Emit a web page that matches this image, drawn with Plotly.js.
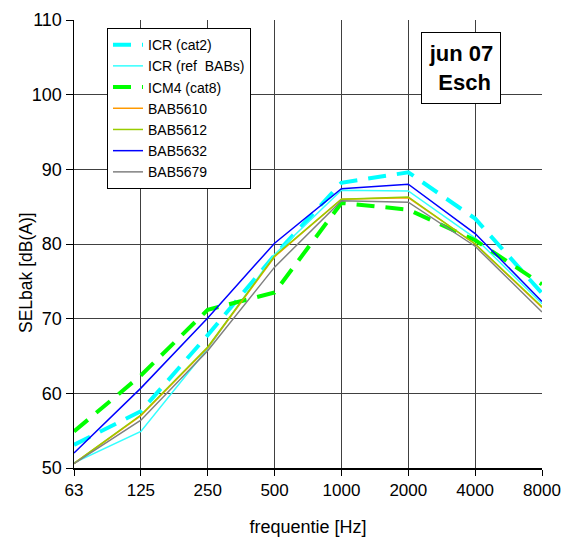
<!DOCTYPE html>
<html>
<head>
<meta charset="utf-8">
<script src="https://cdn.plot.ly/plotly-3.0.1.min.js"></script>
<style>html,body{margin:0;padding:0;background:#fff;}#chart{width:566px;height:541px;}</style>
</head>
<body>
<div id="chart"></div>
<script>
const freqs = ["63", "125", "250", "500", "1000", "2000", "4000", "8000"];
const icrCat2   = [53.1, 57.6, 67.8, 78.5, 88.2, 89.6, 83.4, 73.4];
const icrRef    = [50.7, 54.9, 66.0, 78.6, 87.2, 87.1, 80.8, 72.0];
const icm4Cat8  = [54.9, 62.4, 71.2, 73.5, 85.5, 84.6, 80.5, 74.6];
const bab5610   = [50.6, 57.0, 66.1, 78.3, 86.0, 86.2, 80.0, 71.5];
const bab5612   = [50.6, 57.1, 66.2, 78.4, 86.0, 86.3, 80.0, 71.6];
const bab5632   = [52.0, 60.7, 70.1, 80.1, 87.4, 88.0, 81.4, 72.3];
const bab5679   = [50.6, 56.4, 65.7, 76.9, 85.8, 85.6, 79.7, 70.9];

const names = ["ICR (cat2)", "ICR (ref  BABs)", "ICM4 (cat8)", "BAB5610", "BAB5612", "BAB5632", "BAB5679"];
const series = [icrCat2, icrRef, icm4Cat8, bab5610, bab5612, bab5632, bab5679];
const yTitle = "SELbak [dB(A)]";
const xTitle = "frequentie [Hz]";
const styles = [
  {color: "#00FFFF", width: 4, dash: "18px,11px"},
  {color: "#33FFFF", width: 1.5},
  {color: "#00FF00", width: 4, dash: "18px,11px"},
  {color: "#FF9900", width: 1.5},
  {color: "#99CC00", width: 1.5},
  {color: "#0000FF", width: 1.5},
  {color: "#808080", width: 1.5}
];

const traces = series.map((ys, i) => ({
  x: freqs, y: ys, name: names[i], type: "scatter", mode: "lines",
  line: styles[i]
}));

const font = {family: "Liberation Sans, Arial, sans-serif", color: "#000"};

const layout = {
  width: 566, height: 541,
  margin: {l: 74, r: 24, t: 20, b: 73},
  paper_bgcolor: "#fff", plot_bgcolor: "#fff",
  font: Object.assign({size: 17}, font),
  showlegend: true,
  xaxis: {
    type: "category", range: [0, 7], automargin: false,
    showgrid: true, gridcolor: "#404040", gridwidth: 1,
    showline: true, linecolor: "#000", linewidth: 2,
    ticks: "outside", ticklen: 6, tickcolor: "#000",
    tickfont: Object.assign({size: 17}, font),
    title: {text: xTitle, font: Object.assign({size: 18}, font)},
    zeroline: false
  },
  yaxis: {
    range: [50, 110], dtick: 10, automargin: false,
    showgrid: true, gridcolor: "#404040", gridwidth: 1,
    showline: true, linecolor: "#000", linewidth: 1.5,
    ticks: "outside", ticklen: 7, tickcolor: "#000",
    tickfont: Object.assign({size: 18}, font),
    zeroline: false
  },
  legend: {
    x: 0.0705, y: 0.982, xanchor: "left", yanchor: "top",
    bgcolor: "#fff", bordercolor: "#000", borderwidth: 1,
    font: Object.assign({size: 14}, font),
    tracegroupgap: 0, itemwidth: 30
  },
  annotations: [{
    xref: "paper", yref: "paper", x: 0.827, y: 0.893,
    xanchor: "center", yanchor: "middle",
    text: "<b>jun 07</b><br><b> Esch</b>", showarrow: false,
    font: Object.assign({size: 22}, font),
    bgcolor: "#fff", bordercolor: "#000", borderwidth: 1,
    width: 76, height: 68, align: "center"
  }, {
    xref: "paper", yref: "paper", x: -0.1026, y: 0.4375,
    xanchor: "center", yanchor: "middle", textangle: -90,
    text: yTitle, showarrow: false,
    font: Object.assign({size: 17.5}, font)
  }]
};

Plotly.newPlot("chart", traces, layout, {displayModeBar: false, staticPlot: true});
</script>
</body>
</html>
